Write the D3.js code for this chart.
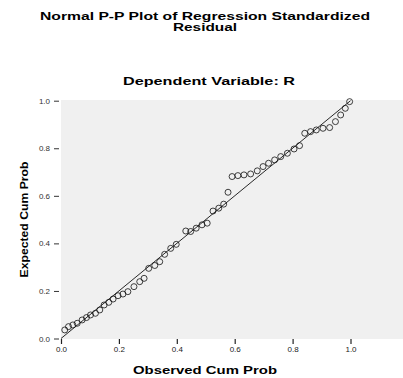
<!DOCTYPE html>
<html>
<head>
<meta charset="utf-8">
<script src="https://cdn.jsdelivr.net/npm/d3@7"></script>
<style>
  body { margin: 0; background: #fff; }
  text { font-family: 'Liberation Sans', Arial, sans-serif; }
</style>
</head>
<body>
<div id="chart"></div>
<script>
// Observed cum prob (x) and expected cum prob (y)
const observed = [0.013, 0.026, 0.041, 0.056, 0.073, 0.088, 0.102, 0.119, 0.134, 0.149,
  0.165, 0.180, 0.197, 0.214, 0.231, 0.252, 0.272, 0.287, 0.303, 0.324,
  0.341, 0.358, 0.379, 0.398, 0.431, 0.448, 0.467, 0.487, 0.505, 0.525,
  0.545, 0.562, 0.577, 0.591, 0.611, 0.632, 0.655, 0.678, 0.698, 0.717,
  0.738, 0.759, 0.782, 0.805, 0.824, 0.842, 0.862, 0.882, 0.905, 0.928,
  0.948, 0.966, 0.982, 0.997]
const expected = [0.036, 0.050, 0.057, 0.064, 0.078, 0.088, 0.099, 0.106, 0.120, 0.141,
  0.152, 0.166, 0.180, 0.187, 0.197, 0.218, 0.239, 0.253, 0.295, 0.307,
  0.323, 0.354, 0.379, 0.396, 0.452, 0.450, 0.464, 0.478, 0.485, 0.536,
  0.548, 0.565, 0.615, 0.681, 0.685, 0.688, 0.692, 0.705, 0.723, 0.737,
  0.751, 0.765, 0.779, 0.797, 0.811, 0.863, 0.870, 0.877, 0.884, 0.887,
  0.912, 0.940, 0.968, 0.996]
const xTicks = [0, 0.2, 0.4, 0.6, 0.8, 1.0]
const xTickLabels = ['0.0', '0.2', '0.4', '0.6', '0.8', '1.0']
const yTicks = [0, 0.2, 0.4, 0.6, 0.8, 1.0]
const yTickLabels = ['0.0', '0.2', '0.4', '0.6', '0.8', '1.0']
const diagonal = [0, 1]

const width = 403
const height = 378

// Plot frame (gray area runs on past 1.0 to the right edge)
const plot = { left: 61, right: 403, top: 100, bottom: 339 }

const x = d3.scaleLinear().domain([0, 1]).range([61, 350.5])
const y = d3.scaleLinear().domain([0, 1]).range([338.5, 100.7])

const svg = d3.select('#chart')
  .append('svg')
  .attr('width', width)
  .attr('height', height)

// Titles
const titles = [
  { text: 'Normal P-P Plot of Regression Standardized', x: 205, y: 20, len: 330 },
  { text: 'Residual', x: 205, y: 31, len: 64 },
  { text: 'Dependent Variable: R', x: 209, y: 85, len: 172 }
]
svg.selectAll('text.title')
  .data(titles)
  .enter()
  .append('text')
  .attr('class', 'title')
  .attr('x', d => d.x)
  .attr('y', d => d.y)
  .attr('text-anchor', 'middle')
  .attr('font-size', 11)
  .attr('font-weight', 'bold')
  .attr('textLength', d => d.len)
  .attr('lengthAdjust', 'spacingAndGlyphs')
  .text(d => d.text)

// Plot background
svg.append('rect')
  .attr('x', plot.left)
  .attr('y', plot.top)
  .attr('width', plot.right - plot.left)
  .attr('height', plot.bottom - plot.top)
  .attr('fill', '#f0f0f0')

// X axis
const xAxis = d3.axisBottom(x)
  .tickValues(xTicks)
  .tickSize(5)
  .tickPadding(2)
  .tickFormat((d, i) => xTickLabels[i])

svg.append('g')
  .attr('transform', `translate(0,${plot.bottom})`)
  .call(xAxis)
  .call(g => g.select('.domain').remove())
  .call(g => g.selectAll('.tick line').attr('stroke', '#222').attr('stroke-width', 1.2))
  .call(g => g.selectAll('.tick text')
    .attr('font-size', 8)
    .attr('font-family', "'Liberation Sans', Arial, sans-serif")
    .attr('fill', '#222'))

// Y axis
const yAxis = d3.axisLeft(y)
  .tickValues(yTicks)
  .tickSize(5)
  .tickPadding(4)
  .tickFormat((d, i) => yTickLabels[i])

svg.append('g')
  .attr('transform', `translate(${plot.left - 2},0)`)
  .call(yAxis)
  .call(g => g.select('.domain').remove())
  .call(g => g.selectAll('.tick line').attr('stroke', '#333'))
  .call(g => g.selectAll('.tick text')
    .attr('font-size', 8)
    .attr('font-family', "'Liberation Sans', Arial, sans-serif")
    .attr('fill', '#333'))

// Axis titles
svg.append('text')
  .attr('x', 205)
  .attr('y', 374)
  .attr('text-anchor', 'middle')
  .attr('font-size', 11)
  .attr('font-weight', 'bold')
  .attr('textLength', 144)
  .attr('lengthAdjust', 'spacingAndGlyphs')
  .text('Observed Cum Prob')

svg.append('text')
  .attr('transform', `translate(28,${(plot.top + plot.bottom) / 2}) rotate(-90)`)
  .attr('text-anchor', 'middle')
  .attr('font-size', 11)
  .attr('font-weight', 'bold')
  .attr('textLength', 116)
  .attr('lengthAdjust', 'spacingAndGlyphs')
  .text('Expected Cum Prob')

// Reference diagonal
svg.append('line')
  .attr('x1', x(diagonal[0]))
  .attr('y1', y(diagonal[0]))
  .attr('x2', x(diagonal[1]))
  .attr('y2', y(diagonal[1]))
  .attr('stroke', '#111')
  .attr('stroke-width', 0.9)

// Points
const points = observed.map((o, i) => ({ o, e: expected[i] }))
svg.append('g')
  .selectAll('circle')
  .data(points)
  .enter()
  .append('circle')
  .attr('cx', d => x(d.o))
  .attr('cy', d => y(d.e))
  .attr('r', 3)
  .attr('fill', 'none')
  .attr('stroke', '#111')
  .attr('stroke-width', 0.8)
</script>
</body>
</html>
